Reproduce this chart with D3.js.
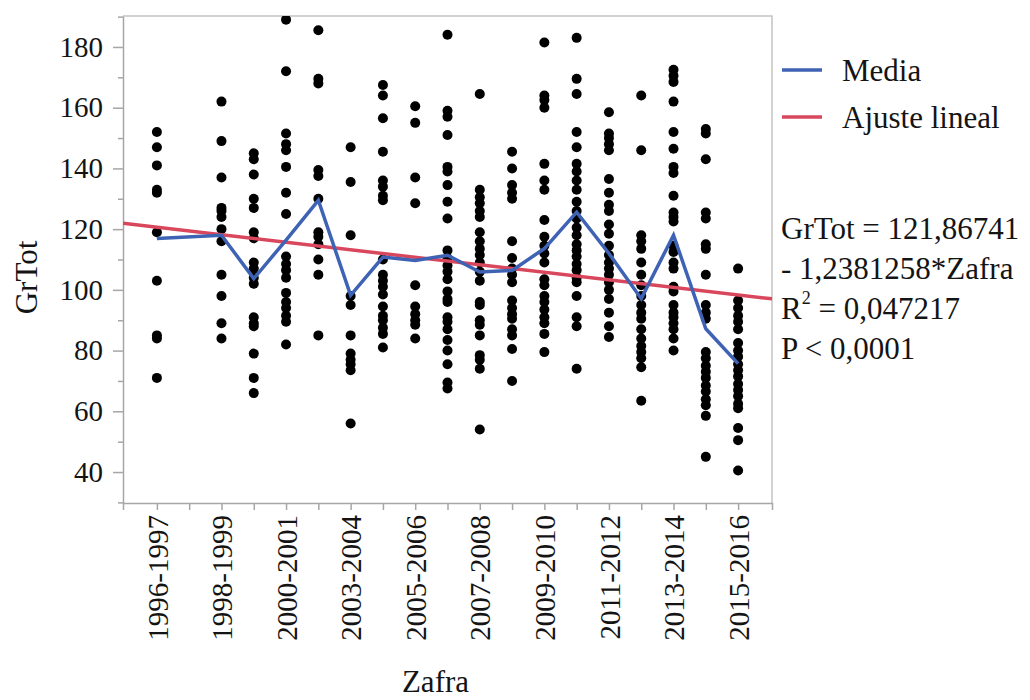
<!DOCTYPE html>
<html>
<head>
<meta charset="utf-8">
<script src="https://cdn.jsdelivr.net/npm/d3@7"></script>
<style>
  html, body { margin: 0; padding: 0; background: #ffffff; }
  svg { display: block; font-family: "Liberation Serif", "Times New Roman", serif; }
</style>
</head>
<body>
<svg id="chart" width="1030" height="700"></svg>
<script>
// GrTot per season (Zafra), one array per season
const gr1996_97 = [152, 147, 141, 133, 132, 119, 103, 85, 84, 71];
const gr1998_99 = [162, 149, 137, 127, 126, 124, 120, 116, 105, 98, 89, 84];
const gr1999_00 = [145, 143, 138, 130, 127, 119, 117, 109, 107, 104, 102, 91, 89, 88, 79, 71, 66];
const gr2000_01 = [189, 172, 151.5, 148, 146, 140.5, 132, 125, 111, 108.5, 106.5, 104, 99, 96, 94, 91.5, 89.5, 82];
const gr2001_02 = [185.5, 169.5, 168, 139.5, 137.5, 130, 119, 117.5, 115, 110, 105, 85];
const gr2003_04 = [147, 135.5, 118, 98, 95, 85, 79, 77, 75.5, 73.5, 56];
const gr2004_05 = [167.5, 164, 156.5, 145.5, 136, 134, 131, 129.5, 110, 105, 103, 101, 98.5, 94.5, 91.5, 90, 87.5, 85.5, 81];
const gr2005_06 = [160.5, 155, 137, 128.5, 101.5, 94.5, 92, 90, 88.5, 84];
const gr2006_07 = [184, 159, 157, 151, 140.5, 139, 134.5, 129, 123.5, 113, 110.5, 108, 106, 103.5, 99.5, 97, 96, 91, 89.5, 87, 83.5, 80, 75.5, 69.5, 67.5];
const gr2007_08 = [164.5, 133, 130.5, 128.5, 126, 124, 119, 116, 113.5, 111.5, 109, 106, 103, 96, 95, 90, 88.5, 85, 78.5, 77, 74, 54];
const gr2008_09 = [145.5, 140, 134.5, 132, 130, 116, 110.5, 107, 105, 102.5, 96.5, 94, 92, 90.5, 87, 85, 80.5, 70];
const gr2009_10 = [181.5, 164, 162.5, 160, 141.5, 136, 133, 123, 117.5, 114.5, 112, 109, 103.5, 101.5, 98, 96, 93.5, 91, 89, 85.5, 79.5];
const gr2010_11 = [183, 169.5, 164.5, 152, 147, 141.5, 139, 136, 133, 129, 126, 123.5, 120.5, 118, 115, 113, 111, 108.5, 106.5, 104, 102.5, 98, 91, 88, 74];
const gr2011_12 = [158.5, 151.5, 150, 148, 146, 136.5, 132, 128, 126, 121.5, 118.5, 114.5, 111.5, 109, 107, 105, 102.5, 100, 97, 92.5, 88, 84.5];
const gr2012_13 = [164, 146, 118, 116, 113.5, 109, 105, 101.5, 98, 95, 92.5, 90.5, 87, 84, 81.5, 79.5, 77.5, 74.5, 63.5];
const gr2013_14 = [172.5, 170.5, 168.5, 162, 152, 146.5, 140.5, 138.5, 131, 125.5, 124, 122.5, 114.5, 112.5, 109, 107, 101, 99.5, 95, 92.5, 91, 89, 87, 84, 80];
const gr2014_15 = [153, 151.5, 143, 125.5, 123.5, 115, 113.5, 105, 95, 92.5, 90.5, 79.5, 77.5, 75, 73, 71, 68.5, 66.5, 64, 62, 58.5, 45];
const gr2015_16 = [107, 96.5, 94, 91.5, 89.5, 87, 82.5, 80, 78, 75.5, 73.5, 71.5, 69, 67, 65, 62.5, 61, 54.5, 50.5, 40.5];

// Zafra code of each season with data (code 2 has no records)
const zafraCode = [1, 3, 4, 5, 6, 7, 8, 9, 10, 11, 12, 13, 14, 15, 16, 17, 18, 19];
const seasonValues = [gr1996_97, gr1998_99, gr1999_00, gr2000_01, gr2001_02, gr2003_04, gr2004_05,
  gr2005_06, gr2006_07, gr2007_08, gr2008_09, gr2009_10, gr2010_11, gr2011_12, gr2012_13,
  gr2013_14, gr2014_15, gr2015_16];

// Season means (Media)
const media = [116.9, 118.0, 103.7, 116.4, 129.5, 98.2, 110.8, 109.7, 111.4, 105.9, 106.4,
  113.6, 125.6, 112.0, 97.1, 118.0, 87.2, 75.7];

// Linear fit: GrTot = intercept + slope * Zafra
const fitIntercept = 121.86741;
const fitSlope = -1.2381258;

// Axis ticks and labels
const xTickCodes = d3.range(1, 20);
const xLabelCodes = [1, 3, 5, 7, 9, 11, 13, 15, 17, 19];
const xLabels = ["1996-1997", "1998-1999", "2000-2001", "2003-2004", "2005-2006",
  "2007-2008", "2009-2010", "2011-2012", "2013-2014", "2015-2016"];
const yMajorTicks = [40, 60, 80, 100, 120, 140, 160, 180];
const yMinorTicks = [30, 50, 70, 90, 110, 130, 150, 170, 190];

const legendItems = ["Media", "Ajuste lineal"];
const fitText = ["GrTot = 121,86741", "- 1,2381258*Zafra", "= 0,047217", "P < 0,0001"];

const colMedia = "#3f63b4";
const colFit = "#d9475d";
const colAxis = "#a6a6a6";
const colText = "#141414";

const svg = d3.select("#chart");
const plot = { left: 123, top: 16, right: 772, bottom: 503 };

const x = d3.scaleLinear().domain([-0.05, 20.05]).range([plot.left, plot.right]);
const y = d3.scaleLinear().domain([29.8, 190.2]).range([plot.bottom, plot.top]);

svg.append("defs").append("clipPath").attr("id", "plotClip")
  .append("rect")
  .attr("x", plot.left).attr("y", plot.top)
  .attr("width", plot.right - plot.left).attr("height", plot.bottom - plot.top);

// frame (top and right)
svg.append("path")
  .attr("d", `M${plot.left},${plot.top}H${plot.right}V${plot.bottom}`)
  .attr("fill", "none").attr("stroke", "#c4c4c4").attr("stroke-width", 1.5);

// y axis: minor ticks, then major ticks with labels
const yMinor = svg.append("g").attr("transform", `translate(${plot.left},0)`)
  .call(d3.axisLeft(y).tickValues(yMinorTicks).tickSize(5).tickFormat(""));
yMinor.select(".domain").remove();
yMinor.selectAll("line").attr("stroke", colAxis).attr("stroke-width", 1.5);

const yAxis = svg.append("g").attr("transform", `translate(${plot.left},0)`)
  .call(d3.axisLeft(y).tickValues(yMajorTicks).tickSize(10).tickSizeOuter(0).tickPadding(10));
yAxis.select(".domain").attr("stroke", colAxis).attr("stroke-width", 1.5);
yAxis.selectAll("line").attr("stroke", colAxis).attr("stroke-width", 1.5);
yAxis.selectAll("text")
  .attr("font-family", "Liberation Serif, Times New Roman, serif")
  .attr("font-size", 29).attr("fill", colText);

// x axis
const xAxis = svg.append("g").attr("transform", `translate(0,${plot.bottom})`)
  .call(d3.axisBottom(x).tickValues(xTickCodes).tickSize(7).tickSizeOuter(7)
    .tickFormat(c => { const i = xLabelCodes.indexOf(c); return i >= 0 ? xLabels[i] : ""; }));
xAxis.select(".domain").attr("stroke", colAxis).attr("stroke-width", 1.5);
xAxis.selectAll("line").attr("stroke", colAxis).attr("stroke-width", 1.5);
xAxis.selectAll("text")
  .attr("font-family", "Liberation Serif, Times New Roman, serif")
  .attr("font-size", 29).attr("fill", colText)
  .attr("transform", "rotate(-90)")
  .attr("text-anchor", "end")
  .attr("x", -12).attr("y", 0).attr("dy", "0.35em");

// axis titles
svg.append("text")
  .attr("transform", `translate(37,${(plot.top + plot.bottom) / 2 + 18}) rotate(-90)`)
  .attr("text-anchor", "middle")
  .attr("font-size", 31).attr("fill", colText)
  .text("GrTot");
svg.append("text")
  .attr("x", (plot.left + plot.right) / 2 - 12).attr("y", 692)
  .attr("text-anchor", "middle")
  .attr("font-size", 31).attr("fill", colText)
  .text("Zafra");

const inner = svg.append("g").attr("clip-path", "url(#plotClip)");

// points
const points = [];
seasonValues.forEach((vals, i) => vals.forEach(v => points.push({ z: zafraCode[i], v })));
inner.append("g").selectAll("circle").data(points).join("circle")
  .attr("cx", d => x(d.z)).attr("cy", d => y(d.v))
  .attr("r", 5).attr("fill", "#000");

// linear fit
const xDom = x.domain();
inner.append("line")
  .attr("x1", x(xDom[0])).attr("y1", y(fitIntercept + fitSlope * xDom[0]))
  .attr("x2", x(xDom[1])).attr("y2", y(fitIntercept + fitSlope * xDom[1]))
  .attr("stroke", colFit).attr("stroke-width", 3.5);

// mean line
inner.append("path")
  .datum(media.map((m, i) => [zafraCode[i], m]))
  .attr("d", d3.line().x(d => x(d[0])).y(d => y(d[1])))
  .attr("fill", "none").attr("stroke", colMedia).attr("stroke-width", 3.5)
  .attr("stroke-linejoin", "miter");

// legend
const legend = svg.append("g");
[colMedia, colFit].forEach((c, i) => {
  const ly = 70 + i * 47;
  legend.append("line").attr("x1", 782).attr("x2", 822).attr("y1", ly).attr("y2", ly)
    .attr("stroke", c).attr("stroke-width", 3.5);
  legend.append("text").attr("x", 842).attr("y", ly).attr("dy", "0.35em")
    .attr("font-size", 31).attr("fill", colText).text(legendItems[i]);
});

// fit statistics
const stats = svg.append("g").attr("font-size", 31).attr("fill", colText);
stats.append("text").attr("x", 781).attr("y", 239).text(fitText[0]);
stats.append("text").attr("x", 781).attr("y", 279).text(fitText[1]);
const r2 = stats.append("text").attr("x", 781).attr("y", 319);
r2.append("tspan").text("R");
r2.append("tspan").attr("font-size", 18).attr("dy", -15).text("2");
r2.append("tspan").attr("dy", 15).text(" " + fitText[2]);
stats.append("text").attr("x", 781).attr("y", 359).text(fitText[3]);
</script>
</body>
</html>
